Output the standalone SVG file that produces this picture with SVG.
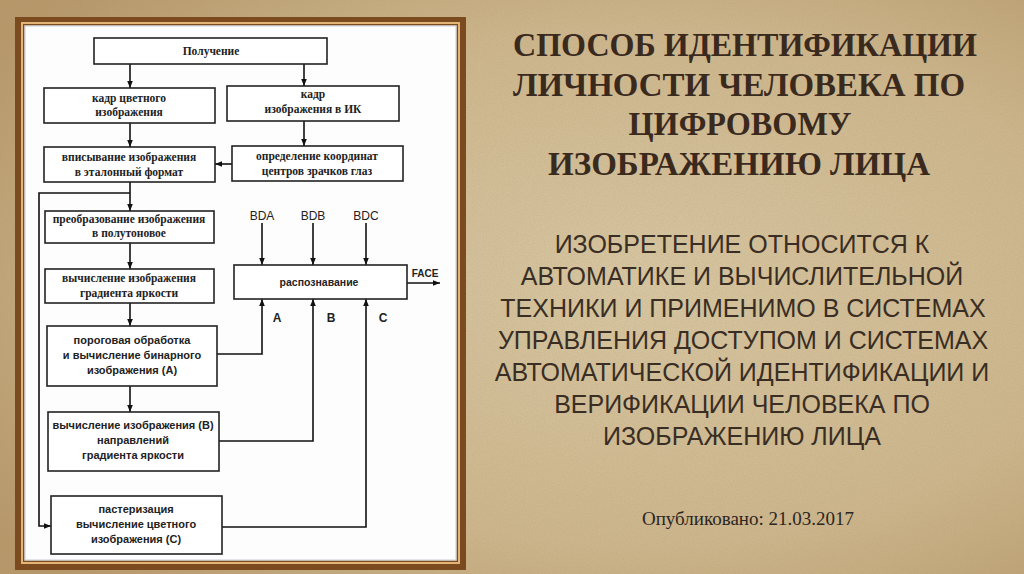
<svg xmlns="http://www.w3.org/2000/svg" width="1024" height="574" viewBox="0 0 1024 574">
<defs>
<radialGradient id="bg" cx="0.62" cy="0.5" r="0.75">
<stop offset="0" stop-color="#d6c6a2"/>
<stop offset="0.6" stop-color="#ccb58c"/>
<stop offset="1" stop-color="#b5976a"/>
</radialGradient>
<filter id="noise" x="0" y="0" width="100%" height="100%">
<feTurbulence type="fractalNoise" baseFrequency="0.9" numOctaves="2" seed="3" result="n"/>
<feColorMatrix type="matrix" values="0 0 0 0 0.45  0 0 0 0 0.32  0 0 0 0 0.15  0 0 0 -2 1.2"/>
</filter>
<marker id="ah" viewBox="0 0 10 10" refX="10" refY="5" markerWidth="7" markerHeight="7" markerUnits="userSpaceOnUse" orient="auto">
<path d="M0,1 L10,5 L0,9 z" fill="#111"/>
</marker>
<style>
.box{fill:#fff;stroke:#222;stroke-width:1.6}
.ser{font-family:"Liberation Serif","DejaVu Serif",serif;font-weight:bold;font-size:11.5px;fill:#222;text-anchor:middle}
.san{font-family:"Liberation Sans",Arial,sans-serif;font-weight:bold;font-size:11px;fill:#222;text-anchor:middle}
.lbl{font-family:"Liberation Sans",Arial,sans-serif;font-size:12px;fill:#222;text-anchor:middle}
.ln{fill:none;stroke:#111;stroke-width:1.6}
.title{font-family:"Liberation Serif","Times New Roman",serif;font-weight:bold;font-size:33px;fill:#3a2a1e;text-anchor:middle}
.body{font-family:"Liberation Sans",Arial,sans-serif;font-size:25px;fill:#3a2e24;text-anchor:middle}
</style>
</defs>
<rect width="1024" height="574" fill="url(#bg)"/>
<rect width="1024" height="574" filter="url(#noise)" opacity="0.25"/>

<g id="frame">
<rect x="15" y="17" width="451" height="553" fill="#7b4a1e"/>
<rect x="22" y="23" width="437" height="540" fill="none" stroke="#e2b577" stroke-width="2"/>
<rect x="25" y="26" width="431" height="534" fill="#fdfdfd" stroke="#d9dde2" stroke-width="1.5"/>
</g>

<g id="connectors">
<line class="ln" x1="130" y1="64" x2="130" y2="88" marker-end="url(#ah)"/>
<line class="ln" x1="304" y1="64" x2="304" y2="86" marker-end="url(#ah)"/>
<line class="ln" x1="130" y1="123" x2="130" y2="147" marker-end="url(#ah)"/>
<line class="ln" x1="304" y1="121" x2="304" y2="146" marker-end="url(#ah)"/>
<line class="ln" x1="232" y1="164" x2="215" y2="164" marker-end="url(#ah)"/>
<line class="ln" x1="130" y1="182" x2="130" y2="211" marker-end="url(#ah)"/>
<polyline class="ln" points="130,193 39,193 39,526 51,526" marker-end="url(#ah)"/>
<line class="ln" x1="130" y1="243" x2="130" y2="269" marker-end="url(#ah)"/>
<line class="ln" x1="130" y1="303" x2="130" y2="326" marker-end="url(#ah)"/>
<line class="ln" x1="130" y1="386" x2="130" y2="412" marker-end="url(#ah)"/>
<line class="ln" x1="262" y1="223" x2="262" y2="265" marker-end="url(#ah)"/>
<line class="ln" x1="313" y1="223" x2="313" y2="265" marker-end="url(#ah)"/>
<line class="ln" x1="366" y1="223" x2="366" y2="265" marker-end="url(#ah)"/>
<line class="ln" x1="407" y1="283" x2="440" y2="283" marker-end="url(#ah)"/>
<polyline class="ln" points="217,354 262,354 262,299" marker-end="url(#ah)"/>
<polyline class="ln" points="219,441 313,441 313,299" marker-end="url(#ah)"/>
<polyline class="ln" points="222,527 366,527 366,299" marker-end="url(#ah)"/>
</g>

<g id="n-poluchenie"><rect class="box" x="94" y="38" width="233" height="26"/><text class="ser" x="211" y="55">Получение</text></g>
<g id="n-kadr-color"><rect class="box" x="44" y="88" width="171" height="35"/><text class="ser" x="129" y="102">кадр цветного</text><text class="ser" x="129" y="116">изображения</text></g>
<g id="n-kadr-ik"><rect class="box" x="227" y="86" width="172" height="35"/><text class="ser" x="313" y="98">кадр</text><text class="ser" x="313" y="113">изображения в ИК</text></g>
<g id="n-vpis"><rect class="box" x="44" y="147" width="171" height="35"/><text class="ser" x="129" y="161">вписывание изображения</text><text class="ser" x="129" y="176">в эталонный формат</text></g>
<g id="n-opred"><rect class="box" x="232" y="146" width="171" height="35"/><text class="ser" x="317" y="160">определение координат</text><text class="ser" x="317" y="175">центров зрачков глаз</text></g>
<g id="n-preobr"><rect class="box" x="45" y="211" width="169" height="32"/><text class="ser" x="129" y="223">преобразование изображения</text><text class="ser" x="129" y="237">в полутоновое</text></g>
<g id="n-grad"><rect class="box" x="45" y="269" width="169" height="34"/><text class="ser" x="129" y="282">вычисление изображения</text><text class="ser" x="129" y="297">градиента яркости</text></g>
<g id="n-porog"><rect class="box" x="47" y="326" width="170" height="60"/><text class="san" x="132" y="344">пороговая обработка</text><text class="san" x="132" y="359">и вычисление бинарного</text><text class="san" x="132" y="374">изображения (А)</text></g>
<g id="n-napr"><rect class="box" x="48" y="412" width="171" height="59"/><text class="san" x="133" y="429">вычисление изображения (В)</text><text class="san" x="133" y="444">направлений</text><text class="san" x="133" y="459">градиента яркости</text></g>
<g id="n-paster"><rect class="box" x="51" y="496" width="171" height="58"/><text class="san" x="136" y="513">пастеризация</text><text class="san" x="136" y="528">вычисление цветного</text><text class="san" x="136" y="543">изображения (С)</text></g>
<g id="n-raspozn"><rect class="box" x="234" y="265" width="173" height="34"/><text class="san" x="319" y="286" style="font-size:10.5px">распознавание</text></g>

<g id="labels">
<text class="lbl" x="262" y="220">BDA</text>
<text class="lbl" x="313" y="220">BDB</text>
<text class="lbl" x="366" y="220">BDC</text>
<text class="lbl" x="425" y="277" style="font-size:10px;font-weight:bold">FACE</text>
<text class="lbl" x="277" y="322" style="font-weight:bold">A</text>
<text class="lbl" x="331" y="322" style="font-weight:bold">B</text>
<text class="lbl" x="383" y="322" style="font-weight:bold">C</text>
</g>

<g id="title">
<text class="title" x="745" y="56" textLength="464" lengthAdjust="spacingAndGlyphs">СПОСОБ ИДЕНТИФИКАЦИИ</text>
<text class="title" x="739" y="96" textLength="452" lengthAdjust="spacingAndGlyphs">ЛИЧНОСТИ ЧЕЛОВЕКА ПО</text>
<text class="title" x="740" y="135" textLength="223" lengthAdjust="spacingAndGlyphs">ЦИФРОВОМУ</text>
<text class="title" x="739" y="175" textLength="382" lengthAdjust="spacingAndGlyphs">ИЗОБРАЖЕНИЮ ЛИЦА</text>
</g>

<g id="body">
<text class="body" x="742" y="253">ИЗОБРЕТЕНИЕ ОТНОСИТСЯ К</text>
<text class="body" x="742" y="285">АВТОМАТИКЕ И ВЫЧИСЛИТЕЛЬНОЙ</text>
<text class="body" x="743" y="317">ТЕХНИКИ И ПРИМЕНИМО В СИСТЕМАХ</text>
<text class="body" x="743" y="349">УПРАВЛЕНИЯ ДОСТУПОМ И СИСТЕМАХ</text>
<text class="body" x="742" y="381">АВТОМАТИЧЕСКОЙ ИДЕНТИФИКАЦИИ И</text>
<text class="body" x="742" y="413">ВЕРИФИКАЦИИ ЧЕЛОВЕКА ПО</text>
<text class="body" x="742" y="445">ИЗОБРАЖЕНИЮ ЛИЦА</text>
</g>

<text x="748" y="525" style="font-family:'Liberation Serif','Times New Roman',serif;font-size:19px;fill:#2b2622;text-anchor:middle">Опубликовано: 21.03.2017</text>
</svg>
